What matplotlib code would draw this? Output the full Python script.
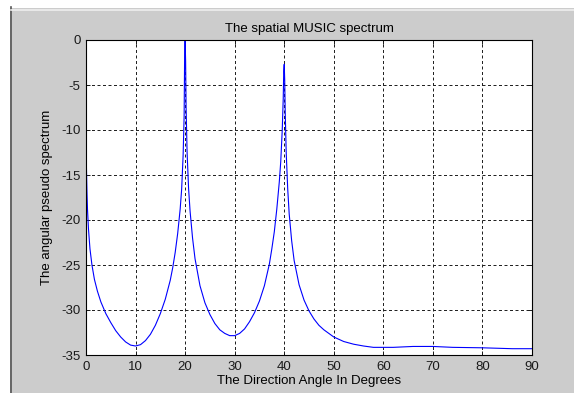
import matplotlib
matplotlib.use("Agg")
import matplotlib.pyplot as plt
from matplotlib.patches import Rectangle
from matplotlib.lines import Line2D

plt.rcParams['font.family'] = ['Liberation Sans', 'DejaVu Sans']
plt.rcParams['axes.unicode_minus'] = False

# Data
angles = [0, 0.1, 0.2, 0.3, 0.5, 0.8, 1.2, 1.7, 2.3, 3, 4, 5, 6, 7, 8, 9, 10,
          11, 12, 13, 14, 15, 16, 17, 17.5, 18, 18.5, 19, 19.3, 19.6, 19.8,
          19.9, 20.0, 20.1, 20.2, 20.4, 20.7, 21, 21.5, 22, 23, 24, 25, 26, 27,
          28, 29, 30, 31, 32, 33, 34, 35, 36, 37, 37.5, 38, 38.5, 39, 39.3,
          39.6, 39.8, 39.9, 40.0, 40.1, 40.2, 40.4, 40.7, 41, 41.5, 42, 43, 44,
          45, 46, 47, 48, 50, 52, 54, 56, 58, 62, 66, 70, 74, 80, 86, 90]
spectrum = [-11.5, -14.5, -17.0, -18.8, -21.0, -23.2, -25.0, -26.6, -27.9, -29.1,
            -30.4, -31.4, -32.3, -33.0, -33.55, -33.9, -34.0,
            -33.85, -33.4, -32.7, -31.7, -30.4, -28.8, -26.7, -25.3, -23.6,
            -21.5, -18.8, -16.6, -12.8, -8.5,
            -2.0, 0.0, -2.3, -7.5, -12.5, -16.5, -19.0, -22.0, -24.3, -27.3,
            -29.2, -30.5, -31.5, -32.2,
            -32.6, -32.85, -32.85, -32.6, -32.1, -31.3, -30.3, -29.0, -27.3,
            -24.9, -23.2, -21.3, -18.8, -15.8, -13.5,
            -10.0, -6.5, -3.5, -2.7, -4.5, -8.0, -12.5, -16.5, -19.3, -22.3,
            -24.5, -27.2, -28.9,
            -30.1, -31.0, -31.7, -32.2, -33.0, -33.5, -33.8, -34.0, -34.15,
            -34.15, -34.05, -34.05, -34.15, -34.2, -34.3, -34.3]

xticks = [0, 10, 20, 30, 40, 50, 60, 70, 80, 90]
yticks = [0, -5, -10, -15, -20, -25, -30, -35]

title = "The spatial MUSIC spectrum"
xlabel = "The Direction Angle In Degrees"
ylabel = "The angular pseudo spectrum"

W, H = 574, 393
fig = plt.figure(figsize=(W / 100, H / 100), dpi=100, facecolor='#cccccc')
ax = fig.add_axes([86 / W, 1 - 355 / H, (532 - 86) / W, (355 - 40) / H])

# window frame decoration
fig.add_artist(Rectangle((0, 0), 10 / W, 1, transform=fig.transFigure,
                         facecolor='white', edgecolor='none'))
fig.add_artist(Rectangle((0, 1 - 8 / H), 1, 8 / H, transform=fig.transFigure,
                         facecolor='white', edgecolor='none'))
fig.add_artist(Line2D([10.5 / W, 10.5 / W], [0, 1 - 7 / H], transform=fig.transFigure,
                      color='#555555', lw=1.2))
fig.add_artist(Line2D([10.5 / W, 1], [1 - 9.5 / H, 1 - 9.5 / H], transform=fig.transFigure,
                      color='#eeeeee', lw=1.2))

ax.plot(angles, spectrum, color='#0000ff', lw=0.8)
ax.set_xlim(0, 90)
ax.set_ylim(-35, 0)
ax.set_xticks(xticks)
ax.set_yticks(yticks)
ax.grid(True, color='#222222', linestyle=(0, (3, 2.5)), linewidth=0.72)
ax.tick_params(direction='in', top=True, right=True, length=3.2, width=0.7,
               labelsize=9.5, pad=4, colors='#1a1a1a')
for s in ax.spines.values():
    s.set_linewidth(0.8)
    s.set_color('black')

ax.set_title(title, fontsize=9.5, pad=6)
ax.set_xlabel(xlabel, fontsize=9.5, labelpad=2)
ax.set_ylabel(ylabel, fontsize=9.5, labelpad=6)

fig.savefig('out.png', dpi=100, facecolor=fig.get_facecolor())
